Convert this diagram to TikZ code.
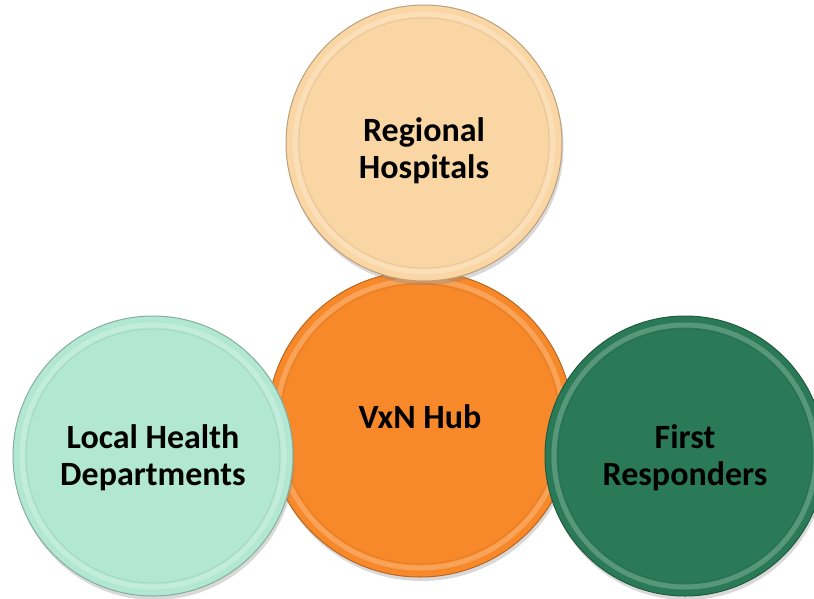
\documentclass[tikz,border=0pt]{standalone}
\usepackage{fontspec}
\setmainfont{Carlito}
\usetikzlibrary{shadows}
\definecolor{peach}{HTML}{FAD6A5}
\definecolor{hubor}{HTML}{F7892A}
\definecolor{mint}{HTML}{B2E8D3}
\definecolor{pine}{HTML}{2B7A57}

\begin{document}
\begin{tikzpicture}[x=1pt,y=-1pt,
  disc/.style={circle,minimum size=#1,inner sep=0pt,line width=1pt,
    drop shadow={opacity=.3,shadow xshift=1.5pt,shadow yshift=-4pt}},
  txt/.style={align=center,font=\bfseries\fontsize{34}{37}\selectfont},
  rim/.style={line width=5pt,draw=#1,opacity=.4}]
\useasboundingbox (0,0) rectangle (814,598);
% hub first, the three partners lie over it
\foreach \n/\x/\y/\d/\c/\o/\t in {hub/420/424/306/hubor/7/{VxN Hub},
    hosp/424/143/276/peach/-8/{Regional\\Hospitals},
    lhd/153/456/280/mint/-2/{Local Health\\Departments},
    resp/685/456/280/pine/-2/{First\\Responders}}{
  \node[disc=\d pt,fill=\c,draw=\c!75!black] (\n) at (\x,\y) {};
  \draw[rim=\c!45!white] (\n.center) circle (\d/2-9 pt);
  \draw[\c!85!black,line width=1pt,opacity=.45] (\n.center) circle (\d/2-13 pt);
  \node[txt] (\n-t) at ([yshift=\o pt]\n.center) {\t};
}
\end{tikzpicture}
\end{document}
